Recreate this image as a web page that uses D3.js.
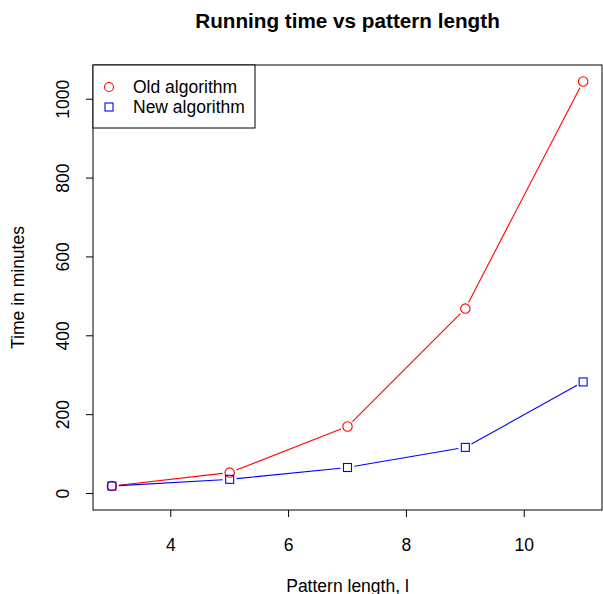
<!DOCTYPE html>
<meta charset="utf-8">
<style>
body { margin: 0; background: #fff; }
text { font-family: "Liberation Sans", Arial, sans-serif; fill: #000; }
</style>
<body>
<script src="https://d3js.org/d3.v7.min.js"></script>
<script>

// data
var patternLength = [3, 5, 7, 9, 11];
var oldTime = [19, 53, 170, 469, 1045];
var newTime = [19, 36, 66, 117, 283];
var xTicks = [4, 6, 8, 10];
var yTicks = [0, 200, 400, 600, 800, 1000];

var W = 603, H = 594;
var margin = {top: 65, right: 1, bottom: 84, left: 93},
    width = W - margin.left - margin.right,
    height = H - margin.top - margin.bottom;

var svg = d3.select("body").append("svg")
    .attr("width", W)
    .attr("height", H);

var g = svg.append("g")
    .attr("transform", "translate(" + margin.left + "," + margin.top + ")");

// R style 4% padding on the ranges
var xr = [3, 11], yr = [0, d3.max(oldTime)];
var px = (xr[1] - xr[0]) * 0.04, py = (yr[1] - yr[0]) * 0.04;
var x = d3.scaleLinear().domain([xr[0] - px, xr[1] + px]).range([0, width]);
var y = d3.scaleLinear().domain([yr[0] - py, yr[1] + py]).range([height, 0]);

// box
g.append("rect")
    .attr("width", width).attr("height", height)
    .attr("fill", "none").attr("stroke", "#000").attr("stroke-width", 1);

// x axis
var xa = g.append("g").attr("transform", "translate(0," + height + ")");
xa.selectAll("line").data(xTicks).enter().append("line")
    .attr("x1", d => x(d)).attr("x2", d => x(d))
    .attr("y1", 0).attr("y2", 7).attr("stroke", "#000");
xa.selectAll("text").data(xTicks).enter().append("text")
    .attr("x", d => x(d)).attr("y", 41)
    .attr("text-anchor", "middle").style("font-size", "17.5px")
    .text(d => d);

// y axis
var ya = g.append("g");
ya.selectAll("line").data(yTicks).enter().append("line")
    .attr("x1", -7).attr("x2", 0)
    .attr("y1", d => y(d)).attr("y2", d => y(d)).attr("stroke", "#000");
ya.selectAll("text").data(yTicks).enter().append("text")
    .attr("transform", d => "translate(-24," + y(d) + ") rotate(-90)")
    .attr("text-anchor", "middle").style("font-size", "17.5px")
    .text(d => d);

// titles
svg.append("text")
    .attr("x", margin.left + width / 2).attr("y", 28)
    .attr("text-anchor", "middle")
    .style("font-size", "20.7px").style("font-weight", "bold")
    .text("Running time vs pattern length");

svg.append("text")
    .attr("x", margin.left + width / 2).attr("y", 592)
    .attr("text-anchor", "middle").style("font-size", "17.5px")
    .text("Pattern length, l");

svg.append("text")
    .attr("transform", "translate(24," + (margin.top + height / 2) + ") rotate(-90)")
    .attr("text-anchor", "middle").style("font-size", "17.5px")
    .text("Time in minutes");

// type = "b": segments with a gap around each point
function drawSeries(vals, color, shape) {
  var pts = patternLength.map((d, i) => [x(d), y(vals[i])]);
  var gap = 7;
  for (var i = 0; i < pts.length - 1; i++) {
    var a = pts[i], b = pts[i + 1];
    var dx = b[0] - a[0], dy = b[1] - a[1], len = Math.sqrt(dx * dx + dy * dy);
    if (len <= 2 * gap) continue;
    var ux = dx / len, uy = dy / len;
    g.append("line")
        .attr("x1", a[0] + ux * gap).attr("y1", a[1] + uy * gap)
        .attr("x2", b[0] - ux * gap).attr("y2", b[1] - uy * gap)
        .attr("stroke", color).attr("stroke-width", 1.1);
  }
  pts.forEach(function(p) {
    if (shape == "circle") {
      g.append("circle").attr("cx", p[0]).attr("cy", p[1]).attr("r", 4.7)
          .attr("fill", "none").attr("stroke", color).attr("stroke-width", 1.1);
    } else {
      g.append("rect").attr("x", p[0] - 4).attr("y", p[1] - 4)
          .attr("width", 8).attr("height", 8)
          .attr("fill", "none").attr("stroke", color).attr("stroke-width", 1.1);
    }
  });
}

drawSeries(oldTime, "red", "circle");
drawSeries(newTime, "blue", "square");

// legend
var legendlist = [["Old algorithm", "red", "circle"], ["New algorithm", "blue", "square"]];
var legend = g.append("g").attr("class", "legend");
legend.append("rect")
    .attr("x", 0).attr("y", 0).attr("width", 162).attr("height", 63)
    .attr("fill", "#fff").attr("stroke", "#000");
legendlist.forEach(function(d, i) {
  var cy = 22 + i * 20;
  if (d[2] == "circle") {
    legend.append("circle").attr("cx", 16).attr("cy", cy).attr("r", 4.5)
        .attr("fill", "none").attr("stroke", d[1]).attr("stroke-width", 1.1);
  } else {
    legend.append("rect").attr("x", 12).attr("y", cy - 4).attr("width", 8).attr("height", 8)
        .attr("fill", "none").attr("stroke", d[1]).attr("stroke-width", 1.1);
  }
  legend.append("text").attr("x", 40).attr("y", cy + 6)
      .style("font-size", "17.5px").text(d[0]);
});

</script>
</body>
